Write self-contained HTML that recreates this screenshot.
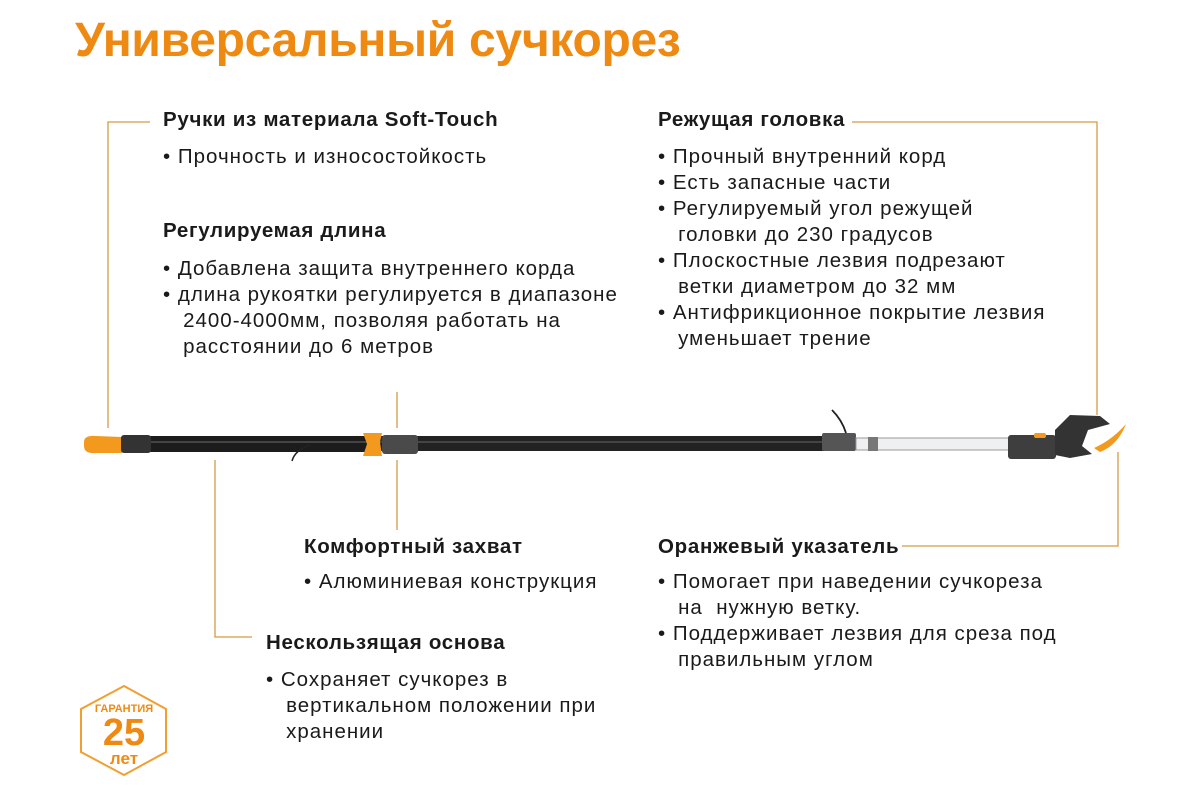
<!DOCTYPE html>
<html><head><meta charset="utf-8"><style>
html,body{margin:0;padding:0;background:#fff;}
body{width:1200px;height:800px;position:relative;overflow:hidden;font-family:"Liberation Sans",sans-serif;color:#1a1a1a;}
.t{position:absolute;white-space:nowrap;font-size:20.5px;line-height:26px;letter-spacing:1px;}
.h{font-weight:bold;letter-spacing:0.7px;}
h1{position:absolute;left:75px;top:13px;margin:0;font-size:48px;color:#ee8a12;font-weight:bold;letter-spacing:-0.3px;}
svg{position:absolute;left:0;top:0;}
</style></head><body>
<svg width="1200" height="800">
<g stroke="#d49a44" stroke-width="1.3" fill="none">
<polyline points="150,122 108,122 108,428"/>
<polyline points="852,122 1097,122 1097,415"/>
<polyline points="215,460 215,637 252,637"/>
<line x1="397" y1="392" x2="397" y2="428"/>
<line x1="397" y1="460" x2="397" y2="530"/>
<polyline points="1118,452 1118,546 902,546"/>
</g>
<rect x="130" y="436" width="240" height="16" fill="#1c1c1c"/>
<rect x="370" y="436" width="460" height="15" fill="#222"/>
<rect x="130" y="441" width="700" height="2" fill="#444"/>
<path d="M84,442 Q84,435 96,436 L122,437 L122,453 L96,453 Q84,454 84,446Z" fill="#f39a1e"/>
<rect x="121" y="435" width="30" height="18" rx="3" fill="#333"/>
<path d="M363,433 L382,433 L380,442 L382,456 L363,456 L367,444Z" fill="#f39a1e"/>
<rect x="382" y="435" width="36" height="19" rx="3" fill="#4a4a4a"/>
<path d="M292,461 Q295,450 310,445" stroke="#222" stroke-width="1.5" fill="none"/>
<rect x="822" y="433" width="34" height="18" rx="2" fill="#555"/>
<path d="M832,410 Q842,420 846,433" stroke="#222" stroke-width="1.8" fill="none"/>
<rect x="856" y="438" width="156" height="12" fill="#eef0f2" stroke="#999" stroke-width="1"/>
<rect x="868" y="437" width="10" height="14" fill="#777"/>
<rect x="1008" y="435" width="48" height="24" rx="3" fill="#3e3e3e"/>
<rect x="1034" y="433" width="12" height="5" rx="2" fill="#f39a1e"/>
<path d="M1055,430 L1070,415 L1100,416 L1110,424 L1088,430 L1082,446 L1092,454 L1070,458 L1055,455Z" fill="#333"/>
<path d="M1094,448 Q1112,440 1126,424 Q1118,445 1100,452Z" fill="#f39a1e"/>
<polygon points="124,686 166,709 166,752 124,775 81,752 81,709" fill="none" stroke="#f0a030" stroke-width="2"/>
<text x="124" y="712" font-size="11" font-weight="bold" fill="#ee8a12" text-anchor="middle" font-family="Liberation Sans">ГАРАНТИЯ</text>
<text x="124" y="745" font-size="38" font-weight="bold" fill="#ee8a12" text-anchor="middle" font-family="Liberation Sans">25</text>
<text x="124" y="764" font-size="17" font-weight="bold" fill="#ee8a12" text-anchor="middle" font-family="Liberation Sans">лет</text>
</svg>
<h1>Универсальный сучкорез</h1>
<div class="t h" style="left:163px;top:107px">Ручки из материала Soft-Touch</div>
<div class="t" style="left:163px;top:144px">• Прочность и износостойкость</div>
<div class="t h" style="left:163px;top:218px">Регулируемая длина</div>
<div class="t" style="left:163px;top:256px">• Добавлена защита внутреннего корда<br>• длина рукоятки регулируется в диапазоне<br>&nbsp;&nbsp;&nbsp;2400-4000мм, позволяя работать на<br>&nbsp;&nbsp;&nbsp;расстоянии до 6 метров</div>
<div class="t h" style="left:658px;top:107px">Режущая головка</div>
<div class="t" style="left:658px;top:144px">• Прочный внутренний корд<br>• Есть запасные части<br>• Регулируемый угол режущей<br>&nbsp;&nbsp;&nbsp;головки до 230 градусов<br>• Плоскостные лезвия подрезают<br>&nbsp;&nbsp;&nbsp;ветки диаметром до 32 мм<br>• Антифрикционное покрытие лезвия<br>&nbsp;&nbsp;&nbsp;уменьшает трение</div>
<div class="t h" style="left:304px;top:534px">Комфортный захват</div>
<div class="t" style="left:304px;top:569px">• Алюминиевая конструкция</div>
<div class="t h" style="left:266px;top:630px">Нескользящая основа</div>
<div class="t" style="left:266px;top:667px">• Сохраняет сучкорез в<br>&nbsp;&nbsp;&nbsp;вертикальном положении при<br>&nbsp;&nbsp;&nbsp;хранении</div>
<div class="t h" style="left:658px;top:534px">Оранжевый указатель</div>
<div class="t" style="left:658px;top:569px">• Помогает при наведении сучкореза<br>&nbsp;&nbsp;&nbsp;на &nbsp;нужную ветку.<br>• Поддерживает лезвия для среза под<br>&nbsp;&nbsp;&nbsp;правильным углом</div>
</body></html>
